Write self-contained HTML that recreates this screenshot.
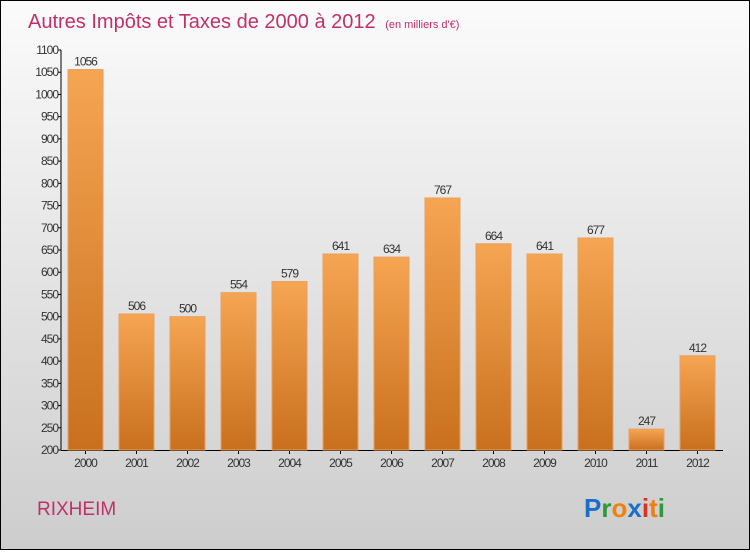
<!DOCTYPE html>
<html><head><meta charset="utf-8"><style>
html,body{margin:0;padding:0}
body{width:750px;height:550px;overflow:hidden;font-family:"Liberation Sans",sans-serif}
#wrap{position:absolute;left:0;top:0;width:748px;height:548px;border:1px solid #000;background:linear-gradient(#fbfbfb,#cdcdcd)}
</style></head><body>
<div id="wrap">
<svg id="chart" width="748" height="548">
<defs><linearGradient id="bg" x1="0" y1="0" x2="0" y2="1"><stop offset="0" stop-color="#f6a552"/><stop offset="1" stop-color="#c8701e"/></linearGradient></defs>
<text x="27" y="27" font-size="20" fill="#c0306a">Autres Impôts et Taxes de 2000 à 2012 <tspan font-size="11" dx="4">(en milliers d'€)</tspan></text>
<text x="36" y="514" font-size="19" fill="#c0306a">RIXHEIM</text>
<g font-size="26" font-family="'Liberation Sans',sans-serif" font-weight="bold">
<text x="583" y="516"><tspan fill="#1a6fc8">P</tspan><tspan fill="#2a9a3a">r</tspan><tspan fill="#f08010">o</tspan><tspan fill="#1a6fc8">x</tspan><tspan fill="#e03020">i</tspan><tspan fill="#f08010">t</tspan><tspan fill="#2a9a3a">i</tspan></text></g>
<g id="axes"></g><g id="bars"></g>
</svg></div>
<script>
const categories=["2000","2001","2002","2003","2004","2005","2006","2007","2008","2009","2010","2011","2012"];
const values=[1056,506,500,554,579,641,634,767,664,641,677,247,412];
const yTicks=[200,250,300,350,400,450,500,550,600,650,700,750,800,850,900,950,1000,1050,1100];
const NS="http://www.w3.org/2000/svg";
const y0=449,y1=49,vmin=200,vmax=1100,axX=60;
function yS(v){return y0-(v-vmin)/(vmax-vmin)*(y0-y1);}
function xS(i){return 67+i*51;}
const bw=35;
const ax=document.getElementById('axes'),bars=document.getElementById('bars');
function mk(t,a,p){const e=document.createElementNS(NS,t);for(const k in a)e.setAttribute(k,a[k]);p.appendChild(e);return e;}
const yl=mk('line',{x1:axX,y1:y1,x2:axX,y2:y0+0.5,stroke:'#000'},ax);


const xl=mk('line',{x1:axX,y1:y0+0.5,x2:722,y2:y0+0.5,stroke:'#000'},ax);


yTicks.forEach(v=>{const y=yS(v);
mk('line',{x1:axX-3,y1:y,x2:axX,y2:y,stroke:'#000'},ax);
const t=mk('text',{x:axX-3,y:y+4,'text-anchor':'end','font-size':12,fill:'#333','letter-spacing':'-1'},ax);t.textContent=v;

});
categories.forEach((c,i)=>{const x=xS(i),v=values[i],y=yS(v);
const r=mk('rect',{x:x,y:y,width:bw,height:y0-y,fill:'url(#bg)',stroke:'#e8a060','stroke-width':1},bars);


const l=mk('text',{x:x+bw/2,y:y-4,'text-anchor':'middle','font-size':12,fill:'#333','letter-spacing':'-1'},bars);l.textContent=v;


mk('line',{x1:x+bw/2,y1:y0,x2:x+bw/2,y2:y0+4,stroke:'#000'},ax);
const t=mk('text',{x:x+bw/2,y:y0+17,'text-anchor':'middle','font-size':12,fill:'#333','letter-spacing':'-1'},ax);t.textContent=c;

});
</script>
</body></html>
